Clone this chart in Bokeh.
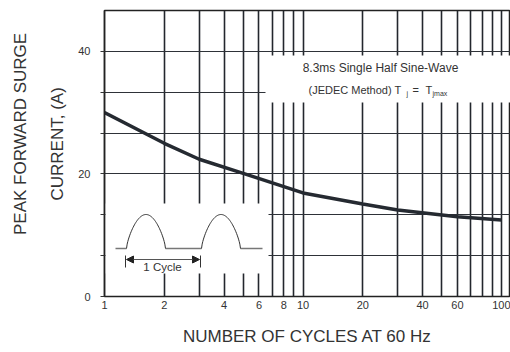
import numpy as np
from bokeh.plotting import figure
from bokeh.models import (Range1d, LinearScale, FixedTicker, BoxAnnotation, Label,
                          Title, Arrow, NormalHead)
from bokeh.embed import file_html
from bokeh.resources import INLINE

# ---- data ----
cycles = [1, 2, 3, 5, 10, 20, 30, 60, 100]
current = [30.0, 25.0, 22.4, 20.1, 16.9, 15.1, 14.1, 13.0, 12.5]

x_major = [1, 2, 4, 6, 8, 10, 20, 40, 60, 100]
x_minor = [3, 5, 7, 9, 30, 50, 70, 80, 90]
x_labels = ["1", "2", "4", "6", "8", "10", "20", "40", "60", "100"]
y_major = [0, 20, 40]
y_minor = [20 / 3, 40 / 3, 80 / 3, 100 / 3]
y_max = 140 / 3
x_max = 111

FONT = "Liberation Sans"
TXT = "#333333"

W, H = 510, 352
L, R, T, B = 104, 0, 10, 56
FW, FH = W - L - R, H - T - B

p = figure(width=W, height=H, x_axis_type="log", x_range=Range1d(1, x_max),
           y_range=Range1d(0, y_max), output_backend="svg", toolbar_location=None,
           min_border_left=L, min_border_right=R, min_border_top=T, min_border_bottom=B)
p.background_fill_color = "white"
p.border_fill_color = "white"
p.outline_line_color = "#222222"
p.outline_line_width = 1.5

# pixel-space helper ranges for decorations
p.extra_x_ranges = {"px": Range1d(0, FW)}
p.extra_x_scales = {"px": LinearScale()}
p.extra_y_ranges = {"px": Range1d(0, FH)}
p.extra_y_scales = {"px": LinearScale()}

# x axis
xax = p.xaxis[0]
xax.ticker = FixedTicker(ticks=x_major, minor_ticks=[])
xax.major_label_overrides = {v: s for v, s in zip(x_major, x_labels)}
xax.axis_line_color = None
xax.major_tick_out = 0
xax.major_tick_in = 0
xax.minor_tick_out = 0
xax.minor_tick_in = 0
xax.major_label_standoff = 4
xax.major_label_text_font = FONT
xax.major_label_text_font_size = "11px"
xax.major_label_text_color = TXT
xax.axis_label = "NUMBER OF CYCLES AT 60 Hz"
xax.axis_label_standoff = 15
xax.axis_label_text_font = FONT
xax.axis_label_text_font_size = "17px"
xax.axis_label_text_font_style = "normal"
xax.axis_label_text_color = TXT

# y axis
yax = p.yaxis[0]
yax.ticker = FixedTicker(ticks=y_major, minor_ticks=y_minor)
yax.major_tick_out = 4
yax.major_tick_in = 0
yax.minor_tick_out = 4
yax.minor_tick_in = 0
yax.major_tick_line_color = "#333333"
yax.minor_tick_line_color = "#333333"
yax.axis_line_color = "#222222"
yax.axis_line_width = 1.5
yax.major_label_standoff = 10
yax.major_label_text_font = FONT
yax.major_label_text_font_size = "11px"
yax.major_label_text_color = TXT

# y axis title lines (outer side panels)
for text, off, so in [("CURRENT, (A)", 96, 14.7), ("PEAK FORWARD SURGE", 61.5, 17.7)]:
    p.add_layout(Title(text=text, align="left", offset=off, vertical_align="middle",
                       standoff=so, text_font=FONT, text_font_size="17px",
                       text_font_style="normal", text_color=TXT), "left")

# grids
p.xgrid.ticker = FixedTicker(ticks=x_major, minor_ticks=x_minor)
p.xgrid.grid_line_color = "#23272d"
p.xgrid.grid_line_width = 1.6
p.xgrid.minor_grid_line_color = "#23272d"
p.xgrid.minor_grid_line_width = 1.6
p.ygrid.ticker = FixedTicker(ticks=y_major, minor_ticks=y_minor)
p.ygrid.grid_line_color = "#2e3238"
p.ygrid.grid_line_width = 1
p.ygrid.minor_grid_line_color = "#2e3238"
p.ygrid.minor_grid_line_width = 1

# white panels over the grid
p.add_layout(BoxAnnotation(left=161, right=FW, bottom=194, top=241, level="underlay",
                           x_range_name="px", y_range_name="px",
                           fill_color="white", fill_alpha=1, line_color=None))
p.add_layout(BoxAnnotation(left=1, right=164, bottom=23, top=93, level="underlay",
                           x_range_name="px", y_range_name="px",
                           fill_color="white", fill_alpha=1, line_color=None))

# curve
p.line(cycles, current, line_color="#252a31", line_width=3.5)

# inset waveform (decoration)
base_y = 48
for x0, x1 in [(11, 22), (61, 97), (136, 158)]:
    p.line([x0, x1], [base_y, base_y], x_range_name="px", y_range_name="px",
           line_color="#777777", line_width=1.5)
t = np.linspace(0, 1, 60)
for x0 in [22, 97]:
    hx = x0 + 39 * t
    hy = base_y + 34 * np.sin(np.pi * t) ** 0.7
    p.line(hx, hy, x_range_name="px", y_range_name="px",
           line_color="#333333", line_width=1)
for xe in [21, 96]:
    p.line([xe, xe], [29, 41], x_range_name="px", y_range_name="px",
           line_color="#333333", line_width=1)
p.add_layout(Arrow(start=NormalHead(size=7, fill_color="#222222", line_color="#222222"),
                   end=NormalHead(size=7, fill_color="#222222", line_color="#222222"),
                   x_start=22, x_end=95, y_start=37, y_end=37,
                   x_range_name="px", y_range_name="px",
                   line_color="#555555", line_width=1))
p.add_layout(Label(x=58, y=30, text="1 Cycle", x_range_name="px", y_range_name="px",
                   text_align="center", text_baseline="middle",
                   text_font=FONT, text_font_size="11.5px", text_color=TXT))

# annotation text
def lab(x, y, text, size, align="left"):
    p.add_layout(Label(x=x, y=y, text=text, x_range_name="px", y_range_name="px",
                       text_align=align, text_baseline="middle",
                       text_font=FONT, text_font_size=size, text_color=TXT))

lab(276, 228.5, "8.3ms Single Half Sine-Wave", "12px", "center")
lab(204, 207, "(JEDEC Method) T", "11px")
lab(302, 203.5, "j", "7px")
lab(308, 207, "=", "11px")
lab(321, 207, "T", "11px")
lab(328, 203.5, "jmax", "7px")

open("out.html", "w").write(file_html(p, INLINE))
